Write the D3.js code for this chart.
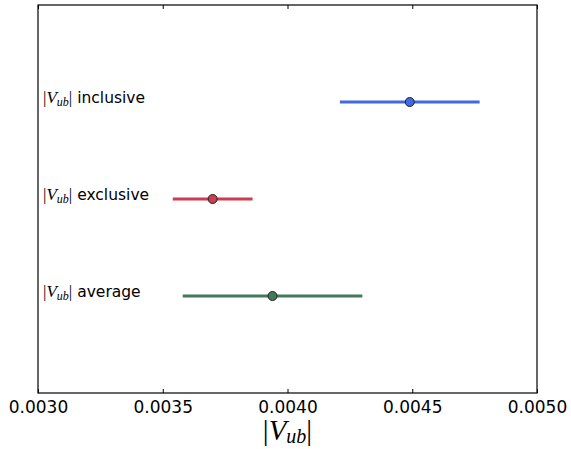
<!DOCTYPE html>
<html>
<head>
<meta charset="utf-8">
<script src="https://cdn.jsdelivr.net/npm/d3@7"></script>
<style>
  html, body { margin: 0; padding: 0; background: #fff; }
  svg { display: block; }
</style>
</head>
<body>
<svg id="chart" width="571" height="449"></svg>
<script>
// |Vub| determinations: central value and symmetric uncertainty
const labels = ["inclusive", "exclusive", "average"];
const centers = [0.00449, 0.00370, 0.00394];
const errors = [0.00028, 0.00016, 0.00036];
const rows = [3, 2, 1];
const colors = ["#4169e1", "#cc3d4d", "#427a58"];
const xTicks = [0.0030, 0.0035, 0.0040, 0.0045, 0.0050];

const svg = d3.select("#chart");
const margin = { left: 38, right: 34, top: 5, bottom: 56 };
const W = 571, H = 449;

const x = d3.scaleLinear().domain([0.0030, 0.0050]).range([margin.left, W - margin.right]);
const y = d3.scaleLinear().domain([0, 4]).range([H - margin.bottom, margin.top]);

const tickFmt = d3.format(".4f");
const mathFont = "Liberation Serif";

// bottom axis with inward ticks
const gx = svg.append("g").attr("transform", `translate(0,${y(0)})`)
  .call(d3.axisBottom(x).tickValues(xTicks).tickSize(-4).tickPadding(8).tickFormat(tickFmt));
gx.select(".domain").remove();
gx.selectAll("line").attr("stroke", "#000").attr("stroke-width", 1);
gx.selectAll("text").attr("font-family", "DejaVu Sans").attr("font-size", 17).attr("fill", "#000");

// top axis, ticks only
const gt = svg.append("g").attr("transform", `translate(0,${y(4)})`)
  .call(d3.axisTop(x).tickValues(xTicks).tickSize(-4).tickFormat(""));
gt.select(".domain").remove();
gt.selectAll("line").attr("stroke", "#000").attr("stroke-width", 1);

// frame
svg.append("rect")
  .attr("x", x(0.0030)).attr("y", y(4))
  .attr("width", x(0.0050) - x(0.0030)).attr("height", y(0) - y(4))
  .attr("fill", "none").attr("stroke", "#000").attr("stroke-width", 1.2);

// error bars
const data = labels.map((l, i) => ({ label: l, c: centers[i], e: errors[i], r: rows[i], color: colors[i] }));

svg.append("g").selectAll("line").data(data).join("line")
  .attr("x1", d => x(d.c - d.e)).attr("x2", d => x(d.c + d.e))
  .attr("y1", d => y(d.r)).attr("y2", d => y(d.r))
  .attr("stroke", d => d.color).attr("stroke-width", 3.2);

svg.append("g").selectAll("circle").data(data).join("circle")
  .attr("cx", d => x(d.c)).attr("cy", d => y(d.r)).attr("r", 4.5)
  .attr("fill", d => d.color).attr("stroke", "#222").attr("stroke-width", 1);

// row labels: |V_ub| followed by the name
const lab = svg.append("g").selectAll("text").data(data).join("text")
  .attr("x", x(0.00302)).attr("y", d => y(d.r) + 1)
  .attr("font-size", 15.5).attr("fill", "#000");
lab.append("tspan").attr("font-family", mathFont).attr("font-size", 17).text("|");
lab.append("tspan").attr("font-family", mathFont).attr("font-style", "italic").attr("font-size", 17).text("V");
lab.append("tspan").attr("font-family", mathFont).attr("font-style", "italic").attr("font-size", 12).attr("dy", 3).text("ub");
lab.append("tspan").attr("font-family", mathFont).attr("font-size", 17).attr("dy", -3).text("|");
lab.append("tspan").attr("font-family", "DejaVu Sans").attr("dx", 5).text(d => d.label);

// x axis title
const xt = svg.append("text")
  .attr("x", (x(0.0030) + x(0.0050)) / 2).attr("y", 440)
  .attr("text-anchor", "middle").attr("fill", "#000");
xt.append("tspan").attr("font-family", mathFont).attr("font-size", 29).text("|");
xt.append("tspan").attr("font-family", mathFont).attr("font-style", "italic").attr("font-size", 29).text("V");
xt.append("tspan").attr("font-family", mathFont).attr("font-style", "italic").attr("font-size", 20).attr("dy", 3).text("ub");
xt.append("tspan").attr("font-family", mathFont).attr("font-size", 29).attr("dy", -3).text("|");
</script>
</body>
</html>
